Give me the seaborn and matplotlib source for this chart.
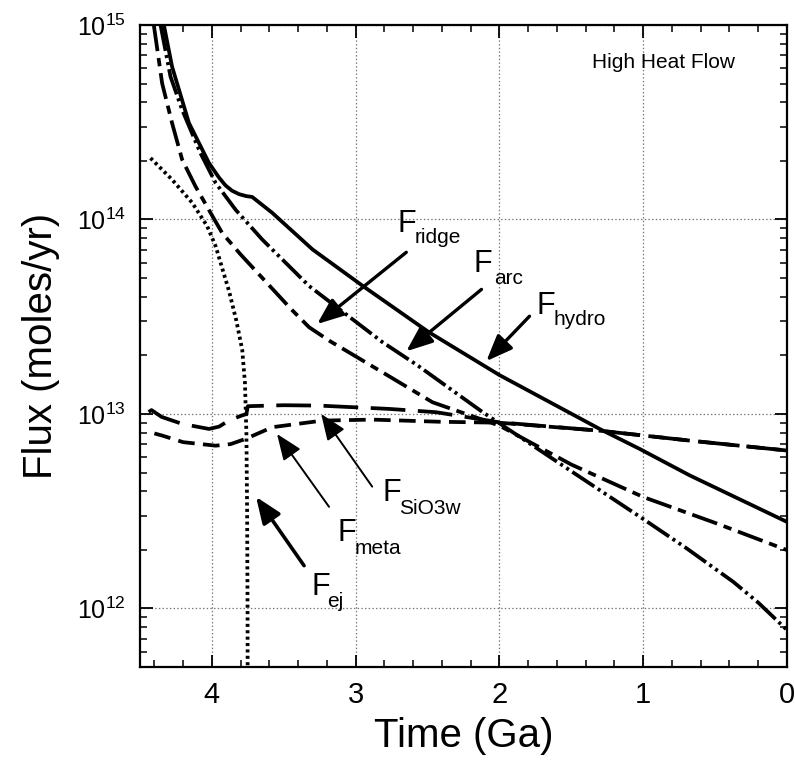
import numpy as np
import pandas as pd
import seaborn as sns
import matplotlib
matplotlib.use("Agg")
import matplotlib.pyplot as plt
from matplotlib.ticker import MultipleLocator, LogLocator, NullFormatter

# ---------------- data (time in Ga, flux in moles/yr as log10) ----------------
hydro_t = [4.334, 4.277, 4.16, 4.02, 3.95, 3.905, 3.86, 3.81, 3.76, 3.72, 3.58, 3.30, 2.95, 2.49, 2.0, 1.303, 1.024, 0.676, 0.0]
hydro_logF = [15.0, 14.786, 14.497, 14.29, 14.215, 14.175, 14.148, 14.13, 14.12, 14.116, 14.034, 13.846, 13.658, 13.42, 13.20, 12.923, 12.82, 12.684, 12.445]

arc_t = [4.357, 4.288, 4.207, 4.08, 3.974, 3.835, 3.65, 3.324, 2.815, 2.57, 2.116, 1.489, 1.0, 0.7, 0.374, 0.2, 0.0]
arc_logF = [15.0, 14.735, 14.564, 14.342, 14.188, 14.05, 13.897, 13.658, 13.37, 13.25, 13.009, 12.70, 12.46, 12.31, 12.137, 12.03, 11.889]

ridge_t = [4.404, 4.346, 4.277, 4.207, 4.114, 4.009, 3.928, 3.80, 3.6, 3.45, 3.324, 3.18, 3.045, 2.813, 2.465, 2.0, 1.5, 1.0, 0.5, 0.0]
ridge_logF = [15.0, 14.70, 14.496, 14.308, 14.17, 14.034, 13.93, 13.82, 13.66, 13.54, 13.446, 13.375, 13.316, 13.214, 13.06, 12.94, 12.74, 12.573, 12.44, 12.30]

sio3w_t = [4.44, 4.42, 4.35, 4.207, 4.02, 3.95, 3.882, 3.80, 3.76, 3.75, 3.5, 3.254, 2.767, 2.44, 2.0, 1.303, 0.676, 0.0]
sio3w_logF = [13.01, 13.02, 12.985, 12.949, 12.923, 12.935, 12.966, 12.99, 13.0, 13.04, 13.045, 13.043, 13.026, 13.009, 12.957, 12.914, 12.863, 12.812]

meta_t = [4.40, 4.346, 4.2, 3.974, 3.87, 3.765, 3.58, 3.23, 2.882, 2.418, 2.0, 1.303, 0.676, 0.0]
meta_logF = [12.90, 12.889, 12.855, 12.837, 12.845, 12.872, 12.932, 12.966, 12.971, 12.96, 12.955, 12.914, 12.863, 12.812]

ej_t = [4.427, 4.277, 4.137, 4.033, 3.974, 3.88, 3.83, 3.789, 3.77, 3.76, 3.755, 3.752, 3.75]
ej_logF = [14.316, 14.205, 14.086, 13.966, 13.863, 13.63, 13.48, 13.33, 13.16, 12.9, 12.5, 12.0, 11.0]

series = {
    "hydro": (hydro_t, hydro_logF, "-"),
    "arc": (arc_t, arc_logF, (0, (19, 3, 2.2, 3, 2.2, 3))),
    "ridge": (ridge_t, ridge_logF, (0, (19, 5, 6, 5))),
    "SiO3w": (sio3w_t, sio3w_logF, (0, (25, 9))),
    "meta": (meta_t, meta_logF, (0, (12, 6))),
    "ej": (ej_t, ej_logF, (0, (2.2, 2.4))),
}

# ---------------- style ----------------
sns.set_theme(style="ticks")
plt.rcParams["font.family"] = ["Liberation Sans", "DejaVu Sans"]
plt.rcParams["mathtext.fontset"] = "custom"
plt.rcParams["mathtext.rm"] = "Liberation Sans"
plt.rcParams["mathtext.it"] = "Liberation Sans:italic"
plt.rcParams["mathtext.bf"] = "Liberation Sans:bold"
plt.rcParams["lines.scale_dashes"] = False
plt.rcParams["axes.edgecolor"] = "black"
plt.rcParams["axes.labelcolor"] = "black"
plt.rcParams["text.color"] = "black"
plt.rcParams["xtick.color"] = "black"
plt.rcParams["ytick.color"] = "black"

fig = plt.figure(figsize=(7.95, 7.61), dpi=100)
ax = fig.add_axes([140 / 795, 1 - 667 / 761, 647 / 795, 642 / 761])
ax.set_yscale("log")

for name, (t, lf, ls) in series.items():
    df = pd.DataFrame({"t": t, "F": 10.0 ** np.array(lf)})
    sns.lineplot(data=df, x="t", y="F", ax=ax, color="black", linewidth=2.7,
                 linestyle=ls, estimator=None, sort=False, legend=False)

ax.set_xlim(4.5, 0)
ax.set_ylim(5e11, 1e15)

ax.xaxis.set_major_locator(MultipleLocator(1))
ax.xaxis.set_minor_locator(MultipleLocator(0.2))
ax.yaxis.set_major_locator(LogLocator(base=10))
ax.yaxis.set_minor_locator(LogLocator(base=10, subs=np.arange(2, 10)))
ax.yaxis.set_minor_formatter(NullFormatter())

ax.tick_params(which="both", direction="in", top=True, right=True)
ax.tick_params(which="major", length=9, width=1.3)
ax.tick_params(which="minor", length=5, width=1.1)
ax.tick_params(axis="x", which="major", labelsize=21, pad=10)
ax.tick_params(axis="y", which="major", labelsize=18, pad=10)

for sp in ax.spines.values():
    sp.set_linewidth(1.6)
    sp.set_color("black")

ax.grid(True, which="major", linestyle=":", color="0.45", linewidth=0.9)
ax.set_axisbelow(True)

ax.set_xlabel("Time (Ga)", fontsize=29, labelpad=6)
ax.set_ylabel("Flux (moles/yr)", fontsize=29, labelpad=12)

# ---------------- annotations ----------------
labels = [
    # sub, F pos, sub pos, arrow start, arrow tip, arrow lw
    ("ridge", (2.711, 8.67e13), (2.592, 7.53e13), (2.648, 6.78e13), (3.268, 2.9e13), 2.4),
    ("arc", (2.181, 5.35e13), (2.035, 4.64e13), (2.125, 4.37e13), (2.648, 2.10e13), 2.4),
    ("hydro", (1.742, 3.26e13), (1.624, 2.86e13), (1.791, 3.18e13), (2.091, 1.87e13), 2.4),
    ("SiO3w", (2.815, 3.58e12), (2.697, 3.07e12), (2.885, 4.23e12), (3.240, 1.0e13), 1.4),
    ("meta", (3.129, 2.23e12), (3.010, 1.91e12), (3.185, 3.33e12), (3.547, 7.89e12), 1.4),
    ("ej", (3.310, 1.17e12), (3.199, 1.02e12), (3.359, 1.66e12), (3.693, 3.75e12), 2.6),
]
for sub, fpos, spos, a0, a1, alw in labels:
    ax.text(fpos[0], fpos[1], "F", fontsize=22, ha="left", va="baseline")
    ax.text(spos[0], spos[1], sub, fontsize=15, ha="left", va="baseline")
    ax.annotate("", xy=a1, xytext=a0,
                arrowprops=dict(arrowstyle="-|>,head_length=0.8,head_width=0.32",
                                mutation_scale=20, lw=alw, color="black",
                                shrinkA=0, shrinkB=0))

ax.text(1.359, 6.0e14, "High Heat Flow", fontsize=15, ha="left", va="baseline")

fig.savefig("out.png", dpi=100, facecolor="white")
